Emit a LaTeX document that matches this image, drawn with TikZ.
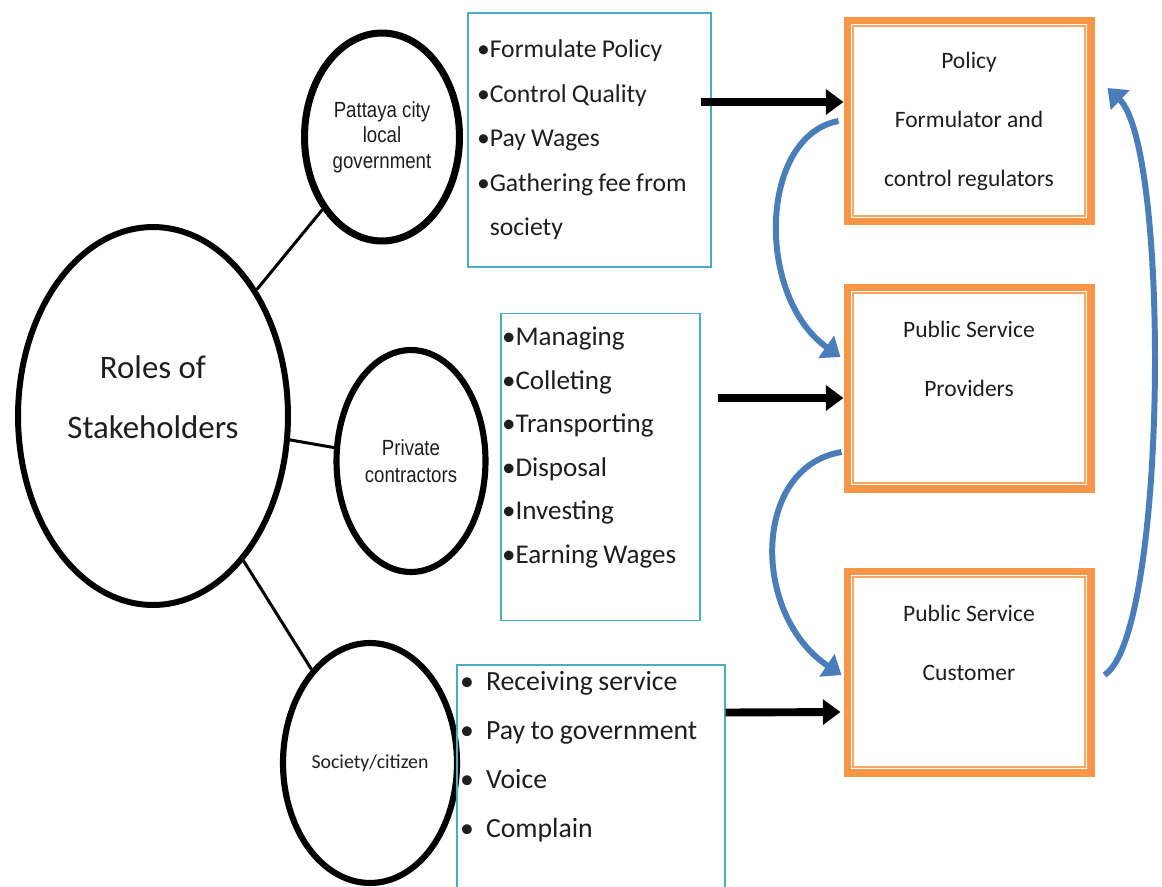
\documentclass[tikz,border=0pt]{standalone}
\usepackage{fontspec}
\setmainfont{Carlito}
\newfontfamily\arialnarrow[FakeStretch=0.85]{Liberation Sans}
\usetikzlibrary{arrows.meta,shapes.geometric}
\definecolor{boxorange}{HTML}{F79646}
\definecolor{boxblue}{HTML}{4BACC6}
\definecolor{arcblue}{HTML}{4A7EBB}
\definecolor{inktext}{HTML}{1E1E1E}

\begin{document}
\begin{tikzpicture}[x=0.02cm, y=-0.02cm,
  every node/.style={text=inktext},
  stake/.style={draw=black, shape=ellipse, line width=3.5pt, inner sep=0pt, align=center},
  link/.style={line width=1.7pt},
  listbox/.style={draw=boxblue, line width=0.8pt, align=left,
    execute at begin node={\spaceskip=0.2em plus 0.05em\relax}},
  rolebox/.style={draw=boxorange, line width=4pt, minimum width=4.88cm, minimum height=4.04cm,
    align=center, font=\fontsize{13.4}{33.5}\selectfont},
  rolebox inner/.style={draw=boxorange!85, line width=0.9pt},
  flow/.style={line width=4.5pt, -{Triangle[width=14pt,length=10pt]}},
  swing/.style={draw=arcblue, line width=3.4pt, -{Triangle[width=15pt,length=10pt]}}]
\useasboundingbox (0,0) rectangle (1162,886);

\node[stake, minimum width=5.4cm, minimum height=7.56cm, line width=3.4pt] (roles) at (153,416) {};
\node[font=\fontsize{18.7}{34}\selectfont, align=center] (rolestxt) at (153,397) {Roles of\\Stakeholders};

\node[stake, minimum width=3.1cm, minimum height=4.16cm, line width=4pt,
  font=\arialnarrow\fontsize{12.5}{14.5}\selectfont] (gov) at (382,137) {Pattaya city\\local\\government};
\node[stake, minimum width=2.98cm, minimum height=4.44cm,
  font=\arialnarrow\fontsize{12.5}{15.4}\selectfont] (contr) at (411,461) {Private\\contractors};
\node[stake, minimum width=3.48cm, minimum height=4.8cm,
  font=\fontsize{11.3}{14}\selectfont] (citizen) at (370,763) {Society/citizen};

\draw[link] (roles) -- (gov);
\draw[link] (roles) -- (contr);
\draw[link] (roles) -- (citizen);

\node[listbox, text width=4.5cm, inner xsep=0.18cm, minimum height=5.08cm,
  font=\fontsize{14.6}{25.3}\selectfont] (govlist) at (589.5,140)
  {\textbullet Formulate Policy\\ \textbullet Control Quality\\ \textbullet Pay Wages\\
   \textbullet Gathering fee from\\ \hphantom{\textbullet}society};
\node[listbox, text width=3.94cm, inner xsep=0.02cm, minimum height=6.14cm,
  font=\fontsize{15.4}{24.8}\selectfont] (contrlist) at (600.5,467)
  {\textbullet Managing\\ \textbullet Colleting\\ \textbullet Transporting\\ \textbullet Disposal\\
   \textbullet Investing\\ \textbullet Earning Wages\\ \mbox{}};
\node[listbox, text width=5.24cm, inner xsep=0.06cm, minimum height=4.3cm,
  font=\fontsize{15.8}{27.9}\selectfont] (citlist) at (591,778.5)
  {\makebox[14.8pt][l]{\textbullet}Receiving service\\ \makebox[14.8pt][l]{\textbullet}Pay to government\\
   \makebox[14.8pt][l]{\textbullet}Voice\\ \makebox[14.8pt][l]{\textbullet}Complain\\ \mbox{}};

\node[rolebox] (pol) at (969,121) {Policy\\Formulator and\\control regulators};
\node[rolebox] (prov) at (969,388) {Public Service\\Providers\\ \mbox{}};
\node[rolebox] (cust) at (969,672) {Public Service\\Customer\\ \mbox{}};
\foreach \b in {pol,prov,cust}
  \draw[rolebox inner] ([shift={(9.5,9.5)}]\b.north west) rectangle ([shift={(-9.5,-9.5)}]\b.south east);

\draw[flow] ([shift={(-11,-38)}]govlist.east) -- ([shift={(0,-19)}]pol.west);
\draw[flow] ([shift={(17,-69)}]contrlist.east) -- ([shift={(0,10)}]prov.west);
\draw[flow] ([shift={(0,-66)}]citlist.east) -- ([shift={(-3,40)}]cust.west);

\draw[swing] ([shift={(-5,0)}]pol.west) .. controls +(-80,15) and +(-85,-60) .. ([shift={(-3,-31)}]prov.west);
\draw[swing] ([shift={(-2,64)}]prov.west) .. controls +(-90,15) and +(-90,-60) .. ([shift={(-2,3)}]cust.west);
\draw[swing] ([shift={(10,3)}]cust.east) .. controls +(63,-40) and +(63,60) .. ([shift={(13,-33)}]pol.east);
\end{tikzpicture}
\end{document}
